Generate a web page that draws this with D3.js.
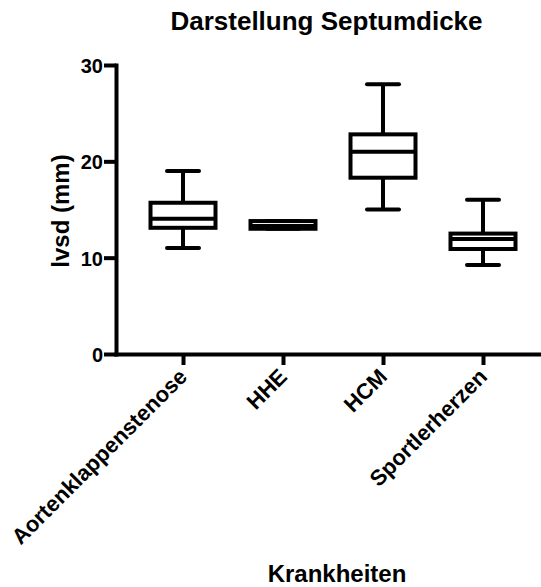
<!DOCTYPE html>
<html>
<head>
<meta charset="utf-8">
<script src="https://cdn.jsdelivr.net/npm/d3@7"></script>
<style>
  html, body { margin: 0; padding: 0; background: #fff; }
  svg { display: block; }
  text { font-family: "Liberation Sans", Arial, sans-serif; font-weight: bold; fill: #000; }
</style>
</head>
<body>
<svg id="chart" width="541" height="587"></svg>
<script>
const categories = ["Aortenklappenstenose", "HHE", "HCM", "Sportlerherzen"];
const minValues    = [11.0, 13.0, 15.0, 9.25];
const q1Values     = [13.1, 13.0, 18.3, 10.9];
const medianValues = [14.05, 13.3, 21.0, 11.95];
const q3Values     = [15.7, 13.8, 22.8, 12.5];
const maxValues    = [19.0, 13.8, 28.0, 16.0];
const yTicks = [0, 10, 20, 30];
const titleText = "Darstellung Septumdicke";
const xTitle = "Krankheiten";
const yTitle = "lvsd (mm)";

const svg = d3.select("#chart");
const SW = 4;

const y = d3.scaleLinear().domain([0, 30]).range([354, 65]);
const x = d3.scalePoint().domain(categories).range([116, 550]).padding(0.67);

// Title
svg.append("text").attr("x", 326.5).attr("y", 30).attr("text-anchor", "middle")
  .style("font-size", "26px").text(titleText);

// Y axis
const yAxis = svg.append("g").attr("transform", "translate(116,0)")
  .call(d3.axisLeft(y).tickValues(yTicks).tickSize(12).tickSizeOuter(0).tickPadding(1).tickFormat(d3.format("d")));
yAxis.select(".domain").attr("stroke-width", SW).attr("stroke-linecap", "square");
yAxis.selectAll(".tick line").attr("stroke-width", SW);
yAxis.selectAll(".tick text").style("font-size", "20px").attr("dy", "0.38em");

// X axis
const xAxis = svg.append("g").attr("transform", "translate(0,354)")
  .call(d3.axisBottom(x).tickSize(11).tickSizeOuter(0).tickPadding(4));
xAxis.select(".domain").attr("stroke-width", SW).attr("stroke-linecap", "square");
xAxis.selectAll(".tick line").attr("stroke-width", SW);
xAxis.selectAll(".tick text")
  .style("font-size", "22px")
  .attr("text-anchor", "end")
  .attr("x", 0).attr("y", 0).attr("dy", 0)
  .attr("transform", "translate(5,24) rotate(-45)");

// Axis titles
svg.append("text").attr("x", 337).attr("y", 582).attr("text-anchor", "middle")
  .style("font-size", "24px").text(xTitle);
svg.append("text").attr("transform", "translate(69,211) rotate(-90)").attr("text-anchor", "middle")
  .style("font-size", "24px").text(yTitle);

// Boxes
const boxHalf = 32.5, capHalf = 16;
const data = categories.map((c, i) => ({
  c, min: minValues[i], q1: q1Values[i], med: medianValues[i], q3: q3Values[i], max: maxValues[i]
}));
const g = svg.append("g").attr("stroke", "#000").attr("stroke-width", SW).attr("fill", "none");
data.forEach(d => {
  const cx = x(d.c);
  g.append("line").attr("x1", cx).attr("x2", cx).attr("y1", y(d.max)).attr("y2", y(d.q3));
  g.append("line").attr("x1", cx).attr("x2", cx).attr("y1", y(d.q1)).attr("y2", y(d.min));
  g.append("line").attr("x1", cx - capHalf).attr("x2", cx + capHalf).attr("y1", y(d.max)).attr("y2", y(d.max)).attr("stroke-linecap", "round");
  g.append("line").attr("x1", cx - capHalf).attr("x2", cx + capHalf).attr("y1", y(d.min)).attr("y2", y(d.min)).attr("stroke-linecap", "round");
  g.append("rect").attr("x", cx - boxHalf).attr("width", 2 * boxHalf)
    .attr("y", y(d.q3)).attr("height", y(d.q1) - y(d.q3)).attr("fill", "#fff");
  g.append("line").attr("x1", cx - boxHalf).attr("x2", cx + boxHalf).attr("y1", y(d.med)).attr("y2", y(d.med));
});
</script>
</body>
</html>
